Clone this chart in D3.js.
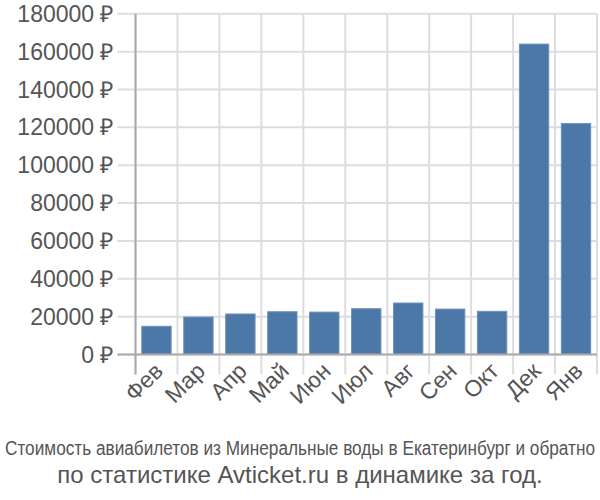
<!DOCTYPE html>
<html><head><meta charset="utf-8">
<script src="https://cdn.jsdelivr.net/npm/d3@7"></script>
<style>body{margin:0;background:#fff}</style>
</head><body>
<svg id="c" width="600" height="500"></svg>
<script>
const categories = ["Фев","Мар","Апр","Май","Июн","Июл","Авг","Сен","Окт","Дек","Янв"];
const values = [14900, 19800, 21400, 22600, 22400, 24200, 27200, 24000, 22800, 164000, 122000];
const yTicks = [0,20000,40000,60000,80000,100000,120000,140000,160000,180000];
const title1 = "Стоимость авиабилетов из Минеральные воды в Екатеринбург и обратно";
const title2 = "по статистике Avticket.ru в динамике за год.";

(function(){
const svg = d3.select("#c");
const pLeft = 135.5, pRight = 597, pTop = 13.8, pBottom = 354.5;
const x = d3.scaleBand().domain(categories).range([pLeft, pRight]).paddingInner(0.3).paddingOuter(0.15);
const y = d3.scaleLinear().domain([0,180000]).range([pBottom, pTop]);
const font = "'Liberation Sans', Arial, sans-serif";
const txt = "#555";

svg.append("g").selectAll("line").data(yTicks).join("line")
  .attr("x1", pLeft - 18).attr("x2", pRight)
  .attr("y1", d=>y(d)).attr("y2", d=>y(d))
  .attr("stroke", "#ddd").attr("stroke-width", 2);
const step = (pRight-pLeft)/categories.length;
const bounds = d3.range(categories.length+1).map(i=>pLeft + i*step);
svg.append("g").selectAll("line").data(bounds).join("line")
  .attr("x1", d=>d).attr("x2", d=>d)
  .attr("y1", pTop).attr("y2", pBottom + 20)
  .attr("stroke", "#ddd").attr("stroke-width", 2);

svg.append("g").selectAll("rect").data(values).join("rect")
  .attr("x", (d,i)=>x(categories[i]))
  .attr("width", x.bandwidth())
  .attr("y", d=>y(d))
  .attr("height", d=>pBottom - y(d))
  .attr("fill", "#4c78a8")
  .attr("stroke", "#6e92bb").attr("stroke-width", 1);

svg.append("line").attr("x1", pLeft).attr("x2", pLeft).attr("y1", pTop).attr("y2", pBottom+20)
  .attr("stroke", "#aaa").attr("stroke-width", 2);
svg.append("line").attr("x1", pLeft-18).attr("x2", pRight).attr("y1", pBottom).attr("y2", pBottom)
  .attr("stroke", "#aaa").attr("stroke-width", 2);

svg.append("g").selectAll("text").data(yTicks).join("text")
  .attr("x", pLeft - 22).attr("y", d=>y(d)).attr("dy", "0.35em")
  .attr("text-anchor", "end").attr("font-family", font).attr("font-size", 23)
  .attr("fill", txt).text(d=>d + " ₽");

svg.append("g").selectAll("text").data(categories).join("text")
  .attr("text-anchor", "end").attr("font-family", font).attr("font-size", 23)
  .attr("fill", txt)
  .attr("transform", d=>`translate(${x(d)+x.bandwidth()/2+8},${pBottom+18}) rotate(-45)`)
  .text(d=>d);

svg.append("text").attr("x", 300).attr("y", 455).attr("text-anchor", "middle")
  .attr("font-family", font).attr("font-size", 20).attr("fill", txt)
  .attr("textLength", 590).attr("lengthAdjust", "spacingAndGlyphs").text(title1);
svg.append("text").attr("x", 300).attr("y", 483).attr("text-anchor", "middle")
  .attr("font-family", font).attr("font-size", 24).attr("fill", txt).text(title2);
})();
</script>
</body></html>
